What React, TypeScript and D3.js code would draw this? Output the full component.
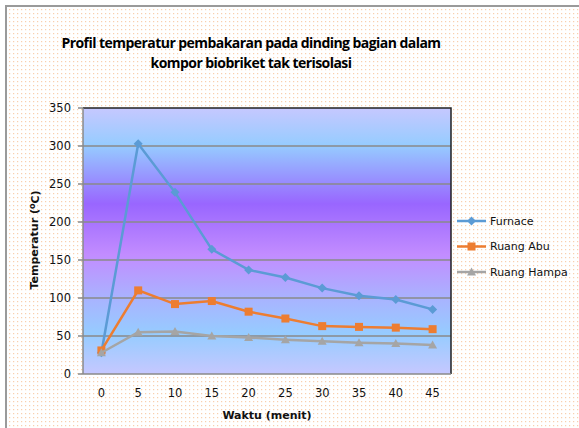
import React from "react";
import * as d3 from "d3";

const categories = [0, 5, 10, 15, 20, 25, 30, 35, 40, 45];
const furnace = [28, 303, 239, 164, 137, 127, 113, 103, 98, 85];
const ruangAbu = [31, 110, 92, 96, 82, 73, 63, 62, 61, 59];
const ruangHampa = [28, 55, 56, 50, 48, 45, 43, 41, 40, 38];
const yTicks = [0, 50, 100, 150, 200, 250, 300, 350];
const seriesNames = ["Furnace", "Ruang Abu", "Ruang Hampa"];
const seriesColors = ["#5b9bd5", "#ed7d31", "#a5a5a5"];

const W = 579;
const H = 428;
const plot = { left: 83, right: 451, top: 108, bottom: 374 };

export default function App() {
  const x = d3
    .scaleBand<number>()
    .domain(categories)
    .range([plot.left, plot.right]);
  const cx = (c: number) => (x(c) ?? 0) + x.bandwidth() / 2;
  const y = d3.scaleLinear().domain([0, 350]).range([plot.bottom, plot.top]);
  const series = [furnace, ruangAbu, ruangHampa];
  const line = d3
    .line<number>()
    .x((_, i) => cx(categories[i]))
    .y((d) => y(d));

  const marker = (s: number, px: number, py: number, key: string) => {
    const col = seriesColors[s];
    if (s === 0) {
      const r = 4.5;
      return (
        <path
          key={key}
          d={`M${px},${py - r}L${px + r},${py}L${px},${py + r}L${px - r},${py}Z`}
          fill={col}
        />
      );
    }
    if (s === 1) {
      return <rect key={key} x={px - 4} y={py - 4} width={8} height={8} fill={col} />;
    }
    return (
      <path
        key={key}
        d={`M${px},${py - 4.5}L${px + 4.5},${py + 3.5}L${px - 4.5},${py + 3.5}Z`}
        fill={col}
      />
    );
  };

  const tickFont = "'DejaVu Sans', Verdana, sans-serif";
  const titleFont = "'Open Sans', 'Noto Sans', sans-serif";

  return (
    <svg
      width={W}
      height={H}
      style={{ position: "absolute", left: 0, top: 0 }}
      xmlns="http://www.w3.org/2000/svg"
    >
      <defs>
        <pattern id="dots" width={4} height={4} patternUnits="userSpaceOnUse">
          <rect width={4} height={4} fill="#ffffff" />
          <rect x={1} y={1} width={1.2} height={1.2} fill="#f9cfae" />
        </pattern>
        <linearGradient id="bg" x1="0" y1="0" x2="0" y2="1">
          <stop offset="0" stopColor="#c6c8ff" />
          <stop offset="0.14" stopColor="#96ccff" />
          <stop offset="0.36" stopColor="#9966ff" />
          <stop offset="0.55" stopColor="#c28cff" />
          <stop offset="0.72" stopColor="#a8b4ff" />
          <stop offset="0.85" stopColor="#96ccff" />
          <stop offset="1" stopColor="#c6c8ff" />
        </linearGradient>
      </defs>
      <rect x={0} y={0} width={W} height={H} fill="#ffffff" />
      <rect x={6} y={6} width={W + 20} height={H + 20} fill="url(#dots)" stroke="#9a9a9a" strokeWidth={2} />

      {/* Title */}
      <text
        x={251}
        y={48}
        textAnchor="middle"
        fontFamily={titleFont}
        fontWeight="bold"
        fontSize={14}
        fill="#000"
        letterSpacing={-0.55}
      >
        Profil temperatur pembakaran pada dinding bagian dalam
      </text>
      <text
        x={251}
        y={68}
        textAnchor="middle"
        fontFamily={titleFont}
        fontWeight="bold"
        fontSize={14}
        fill="#000"
        letterSpacing={-0.55}
      >
        kompor biobriket tak terisolasi
      </text>

      {/* Plot background */}
      <rect
        x={plot.left}
        y={plot.top}
        width={plot.right - plot.left}
        height={plot.bottom - plot.top}
        fill="url(#bg)"
      />
      {/* Gridlines */}
      {yTicks.slice(1, -1).map((t) => (
        <line
          key={"g" + t}
          x1={plot.left}
          x2={plot.right}
          y1={y(t)}
          y2={y(t)}
          stroke="#8a8a8a"
          strokeWidth={1.5}
        />
      ))}
      {/* Border top/right */}
      <path
        d={`M${plot.left},${plot.top}H${plot.right}V${plot.bottom}`}
        fill="none"
        stroke="#222"
        strokeWidth={1.5}
      />
      {/* Axes */}
      <line x1={plot.left} x2={plot.left} y1={plot.top} y2={plot.bottom} stroke="#8a8a8a" strokeWidth={1.5} />
      <line x1={plot.left} x2={plot.right} y1={plot.bottom} y2={plot.bottom} stroke="#8a8a8a" strokeWidth={1.5} />
      {yTicks.map((t) => (
        <g key={"yt" + t}>
          <line x1={plot.left - 5} x2={plot.left} y1={y(t)} y2={y(t)} stroke="#8a8a8a" strokeWidth={1.5} />
          <text
            x={71}
            y={y(t)}
            dy="0.35em"
            textAnchor="end"
            fontFamily={tickFont}
            fontSize={11.5}
            fill="#111"
          >
            {t}
          </text>
        </g>
      ))}
      {categories.map((c) => (
        <text
          key={"xt" + c}
          x={cx(c)}
          y={393}
          dy="0.35em"
          textAnchor="middle"
          fontFamily={tickFont}
          fontSize={11.5}
          fill="#111"
        >
          {c}
        </text>
      ))}
      <text
        x={267}
        y={415}
        dy="0.35em"
        textAnchor="middle"
        fontFamily={tickFont}
        fontWeight="bold"
        fontSize={11}
        fill="#111"
      >
        Waktu (menit)
      </text>
      <text
        transform={`translate(34,240) rotate(-90)`}
        textAnchor="middle"
        dy="0.35em"
        fontFamily={tickFont}
        fontWeight="bold"
        fontSize={11}
        fill="#111"
      >
        Temperatur (
        <tspan dy="-0.35em" fontSize={8}>o</tspan>
        <tspan dy="0.35em">C)</tspan>
      </text>

      {/* Series */}
      {series.map((s, si) => (
        <g key={"s" + si}>
          <path d={line(s) ?? ""} fill="none" stroke={seriesColors[si]} strokeWidth={2.5} />
          {s.map((v, i) => marker(si, cx(categories[i]), y(v), `m${si}-${i}`))}
        </g>
      ))}

      {/* Legend */}
      {seriesNames.map((n, i) => {
        const ly = 221 + i * 25.5;
        return (
          <g key={"l" + i}>
            <line x1={457} x2={486} y1={ly} y2={ly} stroke={seriesColors[i]} strokeWidth={2.5} />
            {marker(i, 471.5, ly, "lm" + i)}
            <text
              x={490}
              y={ly}
              dy="0.35em"
              fontFamily={tickFont}
              fontSize={11}
              fill="#111"
            >
              {n}
            </text>
          </g>
        );
      })}
    </svg>
  );
}
